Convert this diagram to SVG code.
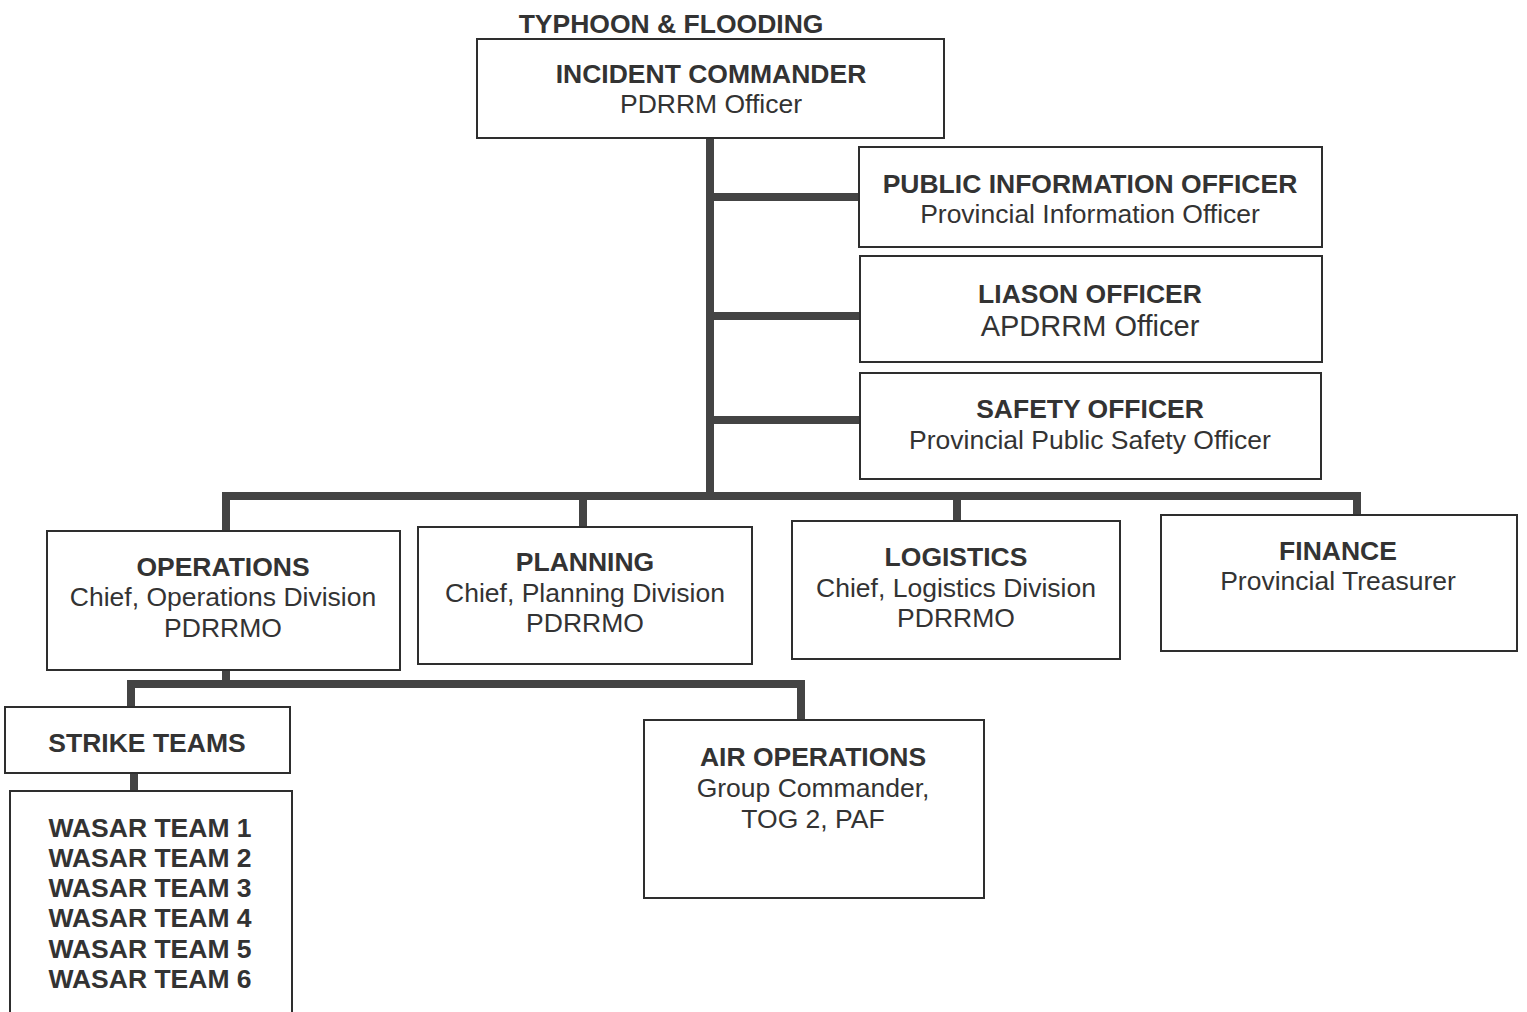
<svg xmlns="http://www.w3.org/2000/svg" width="1527" height="1012" viewBox="0 0 1527 1012">
<style>
.box{fill:#ffffff;stroke:#2e2e2e;stroke-width:2}
.b{font-family:"Liberation Sans",Arial,sans-serif;font-weight:bold;font-size:26.5px;fill:#333333;text-anchor:middle}
.r{font-family:"Liberation Sans",Arial,sans-serif;font-size:26.5px;fill:#333333;text-anchor:middle}
.c{fill:none;stroke:#444444;stroke-width:8;stroke-linecap:square;stroke-linejoin:miter}
</style>
<rect width="1527" height="1012" fill="#ffffff"/>
<g id="connectors">
<path class="c" d="M710 139 V496"/>
<path class="c" d="M714 197 H858"/>
<path class="c" d="M714 316 H858"/>
<path class="c" d="M714 420 H858"/>
<path class="c" d="M226 530 V496 H1357 V514"/>
<path class="c" d="M583 496 V526"/>
<path class="c" d="M957 496 V520"/>
<path class="c" d="M226 670 V684"/>
<path class="c" d="M131 706 V684 H801 V719"/>
<path class="c" d="M134 774 V790"/>
</g>
<g id="title">
<text class="b" x="671" y="33">TYPHOON &amp; FLOODING</text>
</g>
<g id="incident-commander">
<rect class="box" x="477" y="39" width="467" height="99"/>
<text class="b" x="711" y="83">INCIDENT COMMANDER</text>
<text class="r" x="711" y="113">PDRRM Officer</text>
</g>
<g id="public-information-officer">
<rect class="box" x="859" y="147" width="463" height="100"/>
<text class="b" x="1090" y="193">PUBLIC INFORMATION OFFICER</text>
<text class="r" x="1090" y="223">Provincial Information Officer</text>
</g>
<g id="liason-officer">
<rect class="box" x="860" y="256" width="462" height="106"/>
<text class="b" x="1090" y="303">LIASON OFFICER</text>
<text class="r" x="1090" y="336" style="font-size:29px">APDRRM Officer</text>
</g>
<g id="safety-officer">
<rect class="box" x="860" y="373" width="461" height="106"/>
<text class="b" x="1090" y="418">SAFETY OFFICER</text>
<text class="r" x="1090" y="449">Provincial Public Safety Officer</text>
</g>
<g id="operations">
<rect class="box" x="47" y="531" width="353" height="139"/>
<text class="b" x="223" y="576">OPERATIONS</text>
<text class="r" x="223" y="606">Chief, Operations Division</text>
<text class="r" x="223" y="637">PDRRMO</text>
</g>
<g id="planning">
<rect class="box" x="418" y="527" width="334" height="137"/>
<text class="b" x="585" y="571">PLANNING</text>
<text class="r" x="585" y="602">Chief, Planning Division</text>
<text class="r" x="585" y="632">PDRRMO</text>
</g>
<g id="logistics">
<rect class="box" x="792" y="521" width="328" height="138"/>
<text class="b" x="956" y="566">LOGISTICS</text>
<text class="r" x="956" y="597">Chief, Logistics Division</text>
<text class="r" x="956" y="627">PDRRMO</text>
</g>
<g id="finance">
<rect class="box" x="1161" y="515" width="356" height="136"/>
<text class="b" x="1338" y="560">FINANCE</text>
<text class="r" x="1338" y="590">Provincial Treasurer</text>
</g>
<g id="strike-teams">
<rect class="box" x="5" y="707" width="285" height="66"/>
<text class="b" x="147" y="752">STRIKE TEAMS</text>
</g>
<g id="wasar-teams">
<rect class="box" x="10" y="791" width="282" height="240"/>
<text class="b" x="150" y="837">WASAR TEAM 1</text>
<text class="b" x="150" y="867">WASAR TEAM 2</text>
<text class="b" x="150" y="897">WASAR TEAM 3</text>
<text class="b" x="150" y="927">WASAR TEAM 4</text>
<text class="b" x="150" y="958">WASAR TEAM 5</text>
<text class="b" x="150" y="988">WASAR TEAM 6</text>
</g>
<g id="air-operations">
<rect class="box" x="644" y="720" width="340" height="178"/>
<text class="b" x="813" y="766">AIR OPERATIONS</text>
<text class="r" x="813" y="797">Group Commander,</text>
<text class="r" x="813" y="828">TOG 2, PAF</text>
</g>
</svg>
